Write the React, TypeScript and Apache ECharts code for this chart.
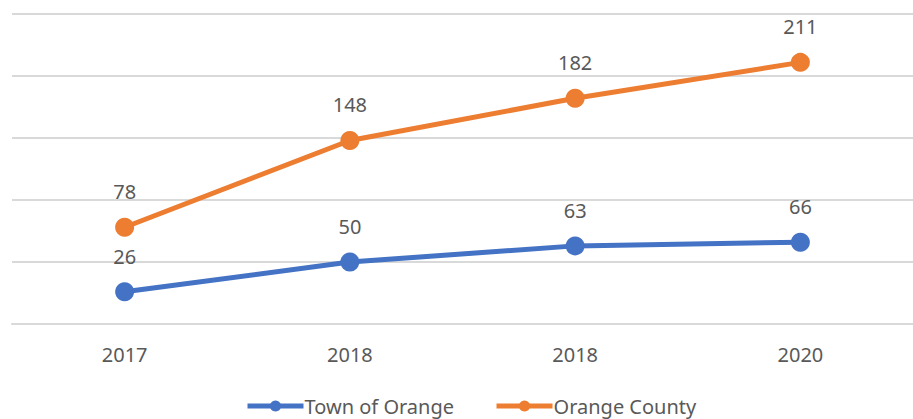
import React, { useEffect, useRef } from "react";
import * as echarts from "echarts";

const categories = ["2017", "2018", "2018", "2020"];
const townOfOrange = [26, 50, 63, 66];
const orangeCounty = [78, 148, 182, 211];
const seriesNames = ["Town of Orange", "Orange County"];
const colors = ["#4472C4", "#ED7D31"];

export default function App() {
  const ref = useRef<HTMLDivElement>(null);
  useEffect(() => {
    if (!ref.current) return;
    const chart = echarts.init(ref.current, undefined, { renderer: "svg" });
    const font = "'Noto Sans', 'Open Sans', sans-serif";
    const mk = (name: string, data: number[], color: string) => ({
      name,
      type: "line",
      data,
      symbol: "circle",
      symbolSize: 19,
      lineStyle: { width: 5, color },
      itemStyle: { color },
      label: {
        show: true,
        position: "top",
        distance: 16,
        color: "#595959",
        fontSize: 20,
        fontFamily: font,
      },
    });
    chart.setOption({
      animation: false,
      backgroundColor: "#fff",
      grid: { left: 12, right: 0, top: 14, bottom: 95, containLabel: false },
      legend: {
        bottom: -2,
        left: 240,
        itemWidth: 56,
        itemHeight: 14,
        itemGap: 40,
        data: seriesNames,
        lineStyle: { width: 5 },
        textStyle: { color: "#595959", fontSize: 20, fontFamily: font, padding: [0, 0, 0, -4] },
      },
      xAxis: {
        type: "category",
        data: categories,
        boundaryGap: true,
        axisLine: { show: true, lineStyle: { color: "#d9d9d9", width: 2 } },
        axisTick: { show: false },
        axisLabel: { color: "#595959", fontSize: 20, fontFamily: font, margin: 20 },
      },
      yAxis: {
        type: "value",
        min: 0,
        max: 250,
        interval: 50,
        axisLabel: { show: false },
        axisLine: { show: false },
        axisTick: { show: false },
        splitLine: { lineStyle: { color: "#d9d9d9", width: 2 } },
      },
      series: [
        mk(seriesNames[0], townOfOrange, colors[0]),
        mk(seriesNames[1], orangeCounty, colors[1]),
      ],
    });
    return () => chart.dispose();
  }, []);
  return (
    <div
      ref={ref}
      style={{ position: "fixed", left: 0, top: 0, width: 913, height: 419 }}
    />
  );
}
